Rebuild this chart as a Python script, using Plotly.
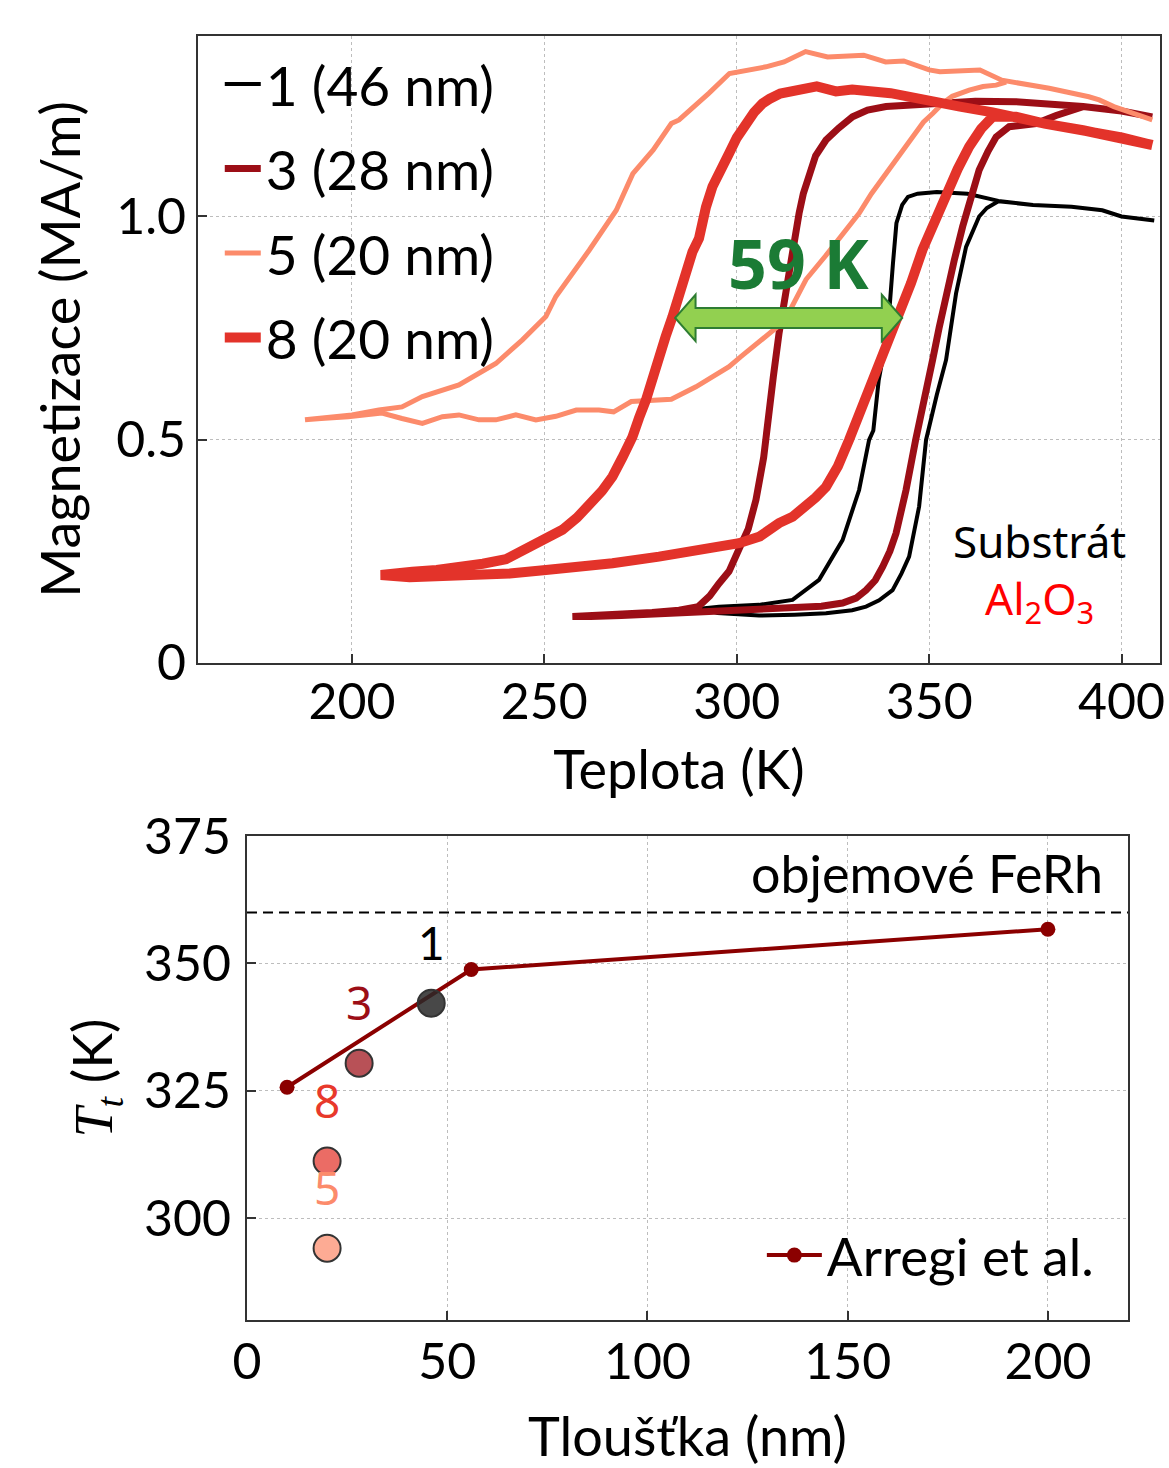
import plotly.graph_objects as go

# ---------------- data: M(T) hysteresis loops (cooling then heating) ----------------
names = ["1 (46 nm)", "3 (28 nm)", "5 (20 nm)", "8 (20 nm)"]
colors = ["#000000", "#9c0e16", "#fc8b6b", "#e3332a"]

T1 = [408.5, 400, 395, 387, 377, 368, 360, 352, 347, 344.5, 343, 342.2, 341.5, 340.6, 339.6, 338.8,
      337.7, 336.9, 335.5, 334.4, 331.8, 327.5, 321.4, 314.5, 305.8, 295.4, 291,
      295, 305.8, 315, 323.2, 330, 333.6, 337, 340.5, 342.8, 344.8, 347.4, 349.2, 352, 354.4, 357,
      359.6, 363, 365, 368, 377, 387, 395, 400, 408.5]
M1 = [0.99, 0.999, 1.013, 1.021, 1.025, 1.034, 1.05, 1.054, 1.05, 1.043, 1.025, 0.999, 0.984, 0.894, 0.782, 0.752,
      0.67, 0.633, 0.52, 0.499, 0.387, 0.275, 0.186, 0.141, 0.13, 0.126, 0.122,
      0.112, 0.106, 0.108, 0.111, 0.118, 0.126, 0.14, 0.163, 0.2, 0.238, 0.35, 0.499, 0.6, 0.678, 0.827,
      0.931, 0.999, 1.018, 1.033, 1.025, 1.021, 1.013, 0.999, 0.99]

T3 = [408, 400, 390, 380, 372.6, 362, 350, 344, 338.8, 334, 330.1, 326.5, 323.2, 320.5, 318.8, 317.3,
      316.2, 314.5, 312.8, 311, 309.5, 308.4, 307, 305, 303, 300.6, 298, 295.4, 293, 290, 285, 278,
      270, 262, 257.3,
      262, 270, 280, 288.5, 300, 314.5, 322, 327.5, 331, 333.6, 336, 337.9, 339.8, 341.4, 344, 346.5,
      348.7, 350.9, 352.6, 354.4, 356.5, 358.7, 361, 363, 365.3, 367.4, 370.8, 374, 377.8, 383, 390]
M3 = [1.222, 1.235, 1.245, 1.252, 1.256, 1.257, 1.252, 1.25, 1.245, 1.237, 1.222, 1.197, 1.17, 1.135, 1.095,
      1.05, 1.006, 0.92, 0.812, 0.738, 0.64, 0.551, 0.46, 0.365, 0.3, 0.255, 0.205, 0.178, 0.15, 0.126,
      0.118, 0.113, 0.11, 0.107, 0.104,
      0.104, 0.106, 0.11, 0.115, 0.118, 0.122, 0.127, 0.134, 0.145, 0.163, 0.185, 0.215, 0.25, 0.29,
      0.387, 0.499, 0.58, 0.678, 0.75, 0.827, 0.9, 0.976, 1.04, 1.103, 1.145, 1.177, 1.2, 1.205, 1.207,
      1.225, 1.245]

T5 = [408, 398, 394.2, 391.5, 381.2, 370, 368.9, 363.2, 352.8, 350, 343.4, 338.7, 333, 323.6, 317.9,
      312.3, 307.6, 298.1, 292.8, 285, 283, 278.3, 273, 268.7, 264.2, 261.7, 253, 250.4, 244.3, 237.4,
      227.8, 218.3, 213, 207, 200, 192.2, 187.8,
      192, 199, 207.8, 213, 218.3, 223.5, 227.8, 233, 237.4, 242.6, 247.8, 253, 258.3, 264.2, 268,
      272.6, 278, 283, 289.4, 298, 301, 304, 307.6, 311, 313.6, 318, 323, 327.5, 331.8, 335, 338.8,
      342.2, 345.7, 348.5, 351, 353.5, 356, 360.4, 364, 367.4, 370]
M5 = [1.215, 1.245, 1.26, 1.267, 1.286, 1.30, 1.304, 1.327, 1.323, 1.327, 1.347, 1.345, 1.36, 1.356,
      1.368, 1.345, 1.334, 1.319, 1.275, 1.215, 1.207, 1.148, 1.095, 1.013, 0.954, 0.924, 0.82, 0.775,
      0.723, 0.67, 0.622, 0.596, 0.573, 0.566, 0.555, 0.547, 0.544,
      0.547, 0.551, 0.559, 0.547, 0.536, 0.551, 0.555, 0.544, 0.544, 0.555, 0.544, 0.552, 0.566, 0.566,
      0.562, 0.585, 0.588, 0.59, 0.618, 0.663, 0.685, 0.705, 0.73, 0.755, 0.785, 0.858, 0.91, 0.96,
      1.006, 1.05, 1.095, 1.133, 1.177, 1.21, 1.23, 1.252, 1.268, 1.282, 1.29, 1.293, 1.30]

T8 = [408, 400, 390, 380, 372.6, 366.5, 358, 350, 340, 330, 325.8, 320.8, 315.4, 311.3, 308.5, 306.7,
      304.5, 302.4, 300, 298, 295.8, 293.7, 292, 290.2, 288.5, 286.8, 285, 283.3, 281.5, 279.8, 278,
      276.4, 274.6, 272.9, 270.3, 267.7, 265, 262.5, 258.5, 254.7, 250, 246, 240, 234, 228.7, 222,
      215.7, 211, 207.5,
      215, 225, 233, 241, 250.4, 259, 267.7, 279.8, 285, 292, 300.6, 306, 311, 314.5, 318, 320.5,
      323.2, 326.3, 329.2, 331.3, 333.3, 335.2, 337, 339.6, 342.2, 345.3, 348.3, 351.4, 354.4, 357.4,
      360.4, 363.5, 366.5, 372.6, 380, 390, 400, 408]
M8 = [1.159, 1.176, 1.192, 1.207, 1.222, 1.232, 1.245, 1.256, 1.275, 1.283, 1.279, 1.29, 1.283, 1.274,
      1.262, 1.252, 1.232, 1.207, 1.175, 1.14, 1.105, 1.066, 1.02, 0.95, 0.92, 0.868, 0.812, 0.775,
      0.73, 0.678, 0.633, 0.588, 0.548, 0.506, 0.46, 0.417, 0.385, 0.36, 0.325, 0.298, 0.278, 0.26,
      0.232, 0.222, 0.215, 0.208, 0.204, 0.2, 0.197,
      0.192, 0.194, 0.197, 0.2, 0.208, 0.214, 0.223, 0.238, 0.245, 0.253, 0.268, 0.283, 0.313, 0.327,
      0.35, 0.37, 0.394, 0.44, 0.499, 0.545, 0.585, 0.625, 0.66, 0.715, 0.775, 0.85, 0.925, 0.99,
      1.045, 1.105, 1.155, 1.195, 1.222, 1.222, 1.207, 1.192, 1.176, 1.159]

loops_T = [T1, T3, T5, T8]
loops_M = [M1, M3, M5, M8]
line_widths = [4, 7, 5, 10]

# ---------------- data: transition temperature vs thickness ----------------
sample_ids = ["1", "3", "8", "5"]
thickness = [46, 28, 20, 20]
Tt = [342.2, 330.4, 311.2, 294.1]
marker_fill = ["rgba(40,40,40,0.85)", "rgba(156,14,22,0.72)", "rgba(227,51,42,0.72)", "rgba(252,139,107,0.72)"]
label_colors = ["#000000", "#9c0e16", "#e8392b", "#fc8b6b"]

arregi_thickness = [10, 56, 200]
arregi_Tt = [325.7, 348.8, 356.7]
bulk_Tt = 360

hyst_left = 284     # K, cooling-branch crossing
hyst_width = 59     # K

FONT = "Lato"
fig = go.Figure()

for name, c, t, m, w in zip(names, colors, loops_T, loops_M, line_widths):
    fig.add_trace(go.Scatter(x=t, y=m, mode="lines", name=name, legendgroup=name,
                             line=dict(color=c, width=w), xaxis="x", yaxis="y", legend="legend"))

fig.add_trace(go.Scatter(x=arregi_thickness, y=arregi_Tt, mode="lines+markers", name="Arregi et al.",
                         line=dict(color="#8b0000", width=4), marker=dict(size=15, color="#8b0000"),
                         xaxis="x2", yaxis="y2", legend="legend2"))
fig.add_trace(go.Scatter(x=thickness, y=Tt, mode="markers", showlegend=False,
                         marker=dict(size=27, color=marker_fill, line=dict(color="#333333", width=2)),
                         xaxis="x2", yaxis="y2"))

for sid, xx, yy, col in zip(sample_ids, thickness, Tt, label_colors):
    fig.add_annotation(x=xx, y=yy, xref="x2", yref="y2", text=sid, showarrow=False, yshift=61,
                       font=dict(family="Noto Sans" if sid != "1" else FONT, size=46, color=col))

# bulk FeRh reference
fig.add_shape(type="line", xref="x2 domain", yref="y2", x0=0, x1=1, y0=bulk_Tt, y1=bulk_Tt,
              line=dict(color="black", width=2, dash="10px,6px"))
fig.add_annotation(xref="x2 domain", yref="y2", x=0.974, y=bulk_Tt + 7.7, text="objemové FeRh",
                   showarrow=False, xanchor="right", yanchor="middle",
                   font=dict(family=FONT, size=52, color="black"))

# double arrow marking the hysteresis width
L, R = hyst_left, hyst_left + hyst_width
cy, hs, hh, hl = 0.772, 0.0225, 0.052, 5.3
pts = [(L, cy), (L + hl, cy + hh), (L + hl, cy + hs), (R - hl, cy + hs), (R - hl, cy + hh), (R, cy),
       (R - hl, cy - hh), (R - hl, cy - hs), (L + hl, cy - hs), (L + hl, cy - hh)]
path = "M " + " L ".join(f"{a},{b}" for a, b in pts) + " Z"
fig.add_shape(type="path", path=path, xref="x", yref="y", fillcolor="#92d050",
              line=dict(color="#2e7d32", width=2), layer="above")
fig.add_annotation(x=(L + R) / 2 + 2.5, y=0.897, xref="x", yref="y", text=f"<b>{hyst_width} K</b>",
                   showarrow=False, font=dict(family="Noto Sans", size=68, color="#1b7b35"))

# substrate note
fig.add_annotation(x=378.6, y=0.203, xref="x", yref="y",
                   text='Substrát<br><span style="color:#ff0000">Al<sub>2</sub>O<sub>3</sub></span>',
                   showarrow=False, align="center",
                   font=dict(family="Noto Sans", size=44, color="black"))

axis_common = dict(showline=True, mirror=True, linecolor="#333333", linewidth=2,
                   ticks="inside", ticklen=9, tickwidth=2, tickcolor="#333333",
                   showgrid=True, gridcolor="#bdbdbd", gridwidth=1.3, griddash="dot",
                   zeroline=False, automargin=False,
                   tickfont=dict(family=FONT, size=50, color="black"),
                   title_font=dict(family=FONT, size=54, color="black"))

fig.update_layout(
    width=1169, height=1468, autosize=False,
    margin=dict(l=0, r=0, t=0, b=0, autoexpand=False),
    paper_bgcolor="white", plot_bgcolor="white",
    font=dict(family=FONT, color="black"),
    xaxis=dict(axis_common, domain=[0.1694, 0.9923], range=[160, 410], tickvals=[200, 250, 300, 350, 400],
               anchor="y", ticklabelstandoff=-6, title=dict(text="Teplota (K)", standoff=22)),
    yaxis=dict(axis_common, domain=[0.5484, 0.9755], range=[0, 1.403], tickvals=[0, 0.5, 1.0],
               ticktext=["0", "0.5", "1.0"], anchor="x", ticklabelstandoff=0,
               title=dict(text="Magnetizace (MA/m)", standoff=18)),
    xaxis2=dict(axis_common, domain=[0.2113, 0.9649], range=[0, 220], tickvals=[0, 50, 100, 150, 200],
                anchor="y2", ticklabelstandoff=-3, title=dict(text="Tloušťka (nm)", standoff=32)),
    yaxis2=dict(axis_common, domain=[0.1008, 0.4305], range=[280, 375], tickvals=[300, 325, 350, 375],
                anchor="x2", ticklabelstandoff=4,
                title=dict(text='<span style="font-family:Liberation Serif"><i>T</i><sub><i>t</i></sub></span> (K)',
                           standoff=14)),
    legend=dict(x=0.188, y=0.9715, xanchor="left", yanchor="top", bgcolor="rgba(0,0,0,0)",
                font=dict(family=FONT, size=55, color="black"), tracegroupgap=10, itemwidth=36),
    legend2=dict(x=0.94, y=0.145, xanchor="right", yanchor="middle", bgcolor="rgba(0,0,0,0)",
                 font=dict(family=FONT, size=53, color="black"), itemwidth=55),
    showlegend=True,
)

fig.write_html("out.html")
